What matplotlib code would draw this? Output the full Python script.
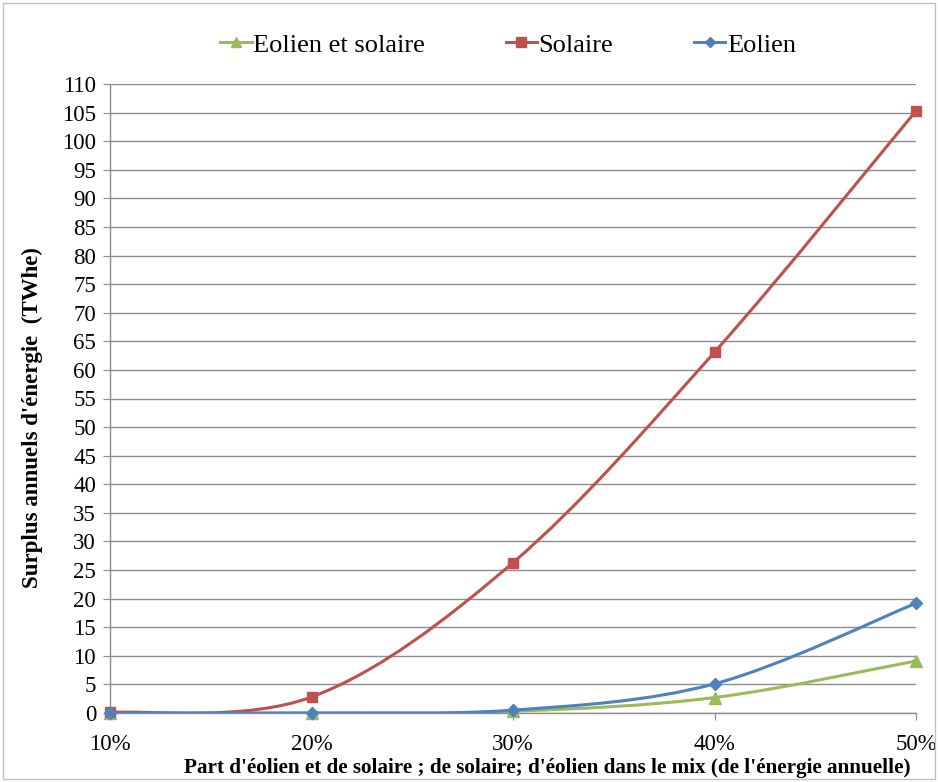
import numpy as np
import matplotlib
matplotlib.use("Agg")
import matplotlib.pyplot as plt
from matplotlib.path import Path
from matplotlib.patches import PathPatch, Rectangle
from matplotlib.lines import Line2D

categories = ["10%", "20%", "30%", "40%", "50%"]
x_vals = [10, 20, 30, 40, 50]
eolien_solaire = [0.0, 0.0, 0.3, 2.7, 9.1]
solaire = [0.1, 2.8, 26.3, 63.1, 105.3]
eolien = [0.0, 0.0, 0.5, 5.1, 19.2]

series = [
    ("Eolien et solaire", eolien_solaire, "#9BBB59", "^", 8.5),
    ("Solaire", solaire, "#C0504D", "s", 7.5),
    ("Eolien", eolien, "#4F81BD", "D", 6.5),
]

plt.rcParams['font.family'] = ['Liberation Serif', 'DejaVu Serif']

fig = plt.figure(figsize=(9.38, 7.82), dpi=100)
W, H = 938, 782
ax = fig.add_axes([110 / W, 1 - 713 / H, (916 - 110) / W, (713 - 84) / H])

def smooth_path(xs, ys):
    xs = np.asarray(xs, float); ys = np.asarray(ys, float)
    n = len(xs)
    verts = [(xs[0], ys[0])]
    codes = [Path.MOVETO]
    for i in range(n - 1):
        p0 = np.array([xs[max(i - 1, 0)], ys[max(i - 1, 0)]])
        p1 = np.array([xs[i], ys[i]])
        p2 = np.array([xs[i + 1], ys[i + 1]])
        p3 = np.array([xs[min(i + 2, n - 1)], ys[min(i + 2, n - 1)]])
        c1 = p1 + (p2 - p0) / 6.0
        c2 = p2 - (p3 - p1) / 6.0
        verts += [tuple(c1), tuple(c2), tuple(p2)]
        codes += [Path.CURVE4] * 3
    return Path(verts, codes)

handles = []
for name, vals, color, marker, ms in series:
    patch = PathPatch(smooth_path(x_vals, vals), facecolor="none", edgecolor=color,
                      lw=2.2, zorder=3, capstyle="round", joinstyle="round")
    ax.add_patch(patch)
    ax.plot(x_vals, vals, linestyle="none", marker=marker, color=color, ms=ms, zorder=4,
            clip_on=False)
    handles.append(Line2D([], [], color=color, lw=2.2, marker=marker, ms=ms - 1))

ax.set_xlim(10, 50)
ax.set_ylim(0, 110)
ax.set_yticks(np.arange(0, 111, 5))
ax.set_xticks(x_vals)
ax.set_xticklabels(categories)
ax.yaxis.grid(True, color="#8c8c8c", lw=1.0)
ax.set_axisbelow(True)
for s in ["top", "right"]:
    ax.spines[s].set_visible(False)
for s in ["left", "bottom"]:
    ax.spines[s].set_color("#8c8c8c")
    ax.spines[s].set_linewidth(1.0)
ax.tick_params(axis="both", direction="out", length=5, color="#8c8c8c", labelsize=16.5,
               labelcolor="black")
ax.tick_params(axis="x", pad=10)
ax.tick_params(axis="y", pad=5)

fig.text(32 / W, 1 - 418 / H, "Surplus annuels d'énergie  (TWhe)", rotation=90,
         ha="center", va="center", fontsize=16.5, fontweight="bold")
fig.text(547 / W, 1 - 768 / H,
         "Part d'éolien et de solaire ; de solaire; d'éolien dans le mix (de l'énergie annuelle)",
         ha="center", va="center", fontsize=15.2, fontweight="bold")

fig.legend(handles, [s[0] for s in series], loc="center", bbox_to_anchor=(508 / W, 1 - 45 / H),
           ncol=3, frameon=False, fontsize=19, handlelength=1.2, handletextpad=0.05,
           columnspacing=3.05)

fig.patches.append(Rectangle((3 / W, 3 / H), (W - 6) / W, (H - 6) / H, transform=fig.transFigure,
                             fill=False, edgecolor="#bfbfbf", lw=1.0))

fig.savefig("out.png", dpi=100)
